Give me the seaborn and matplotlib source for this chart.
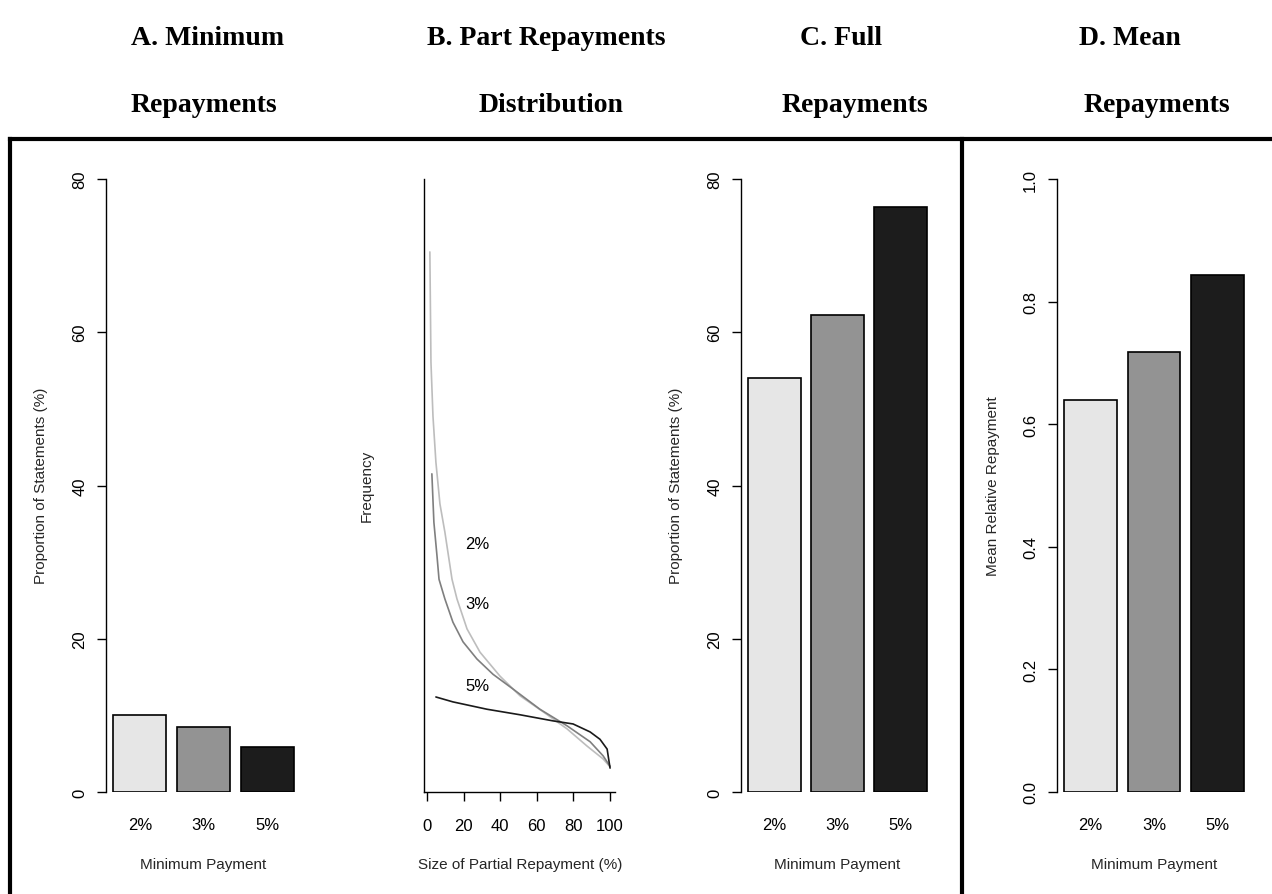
import matplotlib
matplotlib.use("Agg")
import numpy as np
import pandas as pd
import matplotlib.pyplot as plt
from matplotlib.lines import Line2D
import seaborn as sns

# ---- data ----
categories = ['2%', '3%', '5%']
bar_colors = ['#e6e6e6', '#939393', '#1c1c1c']
min_repay = [10.0, 8.5, 5.9]        # A, % of statements
full_repay = [54.0, 62.2, 76.3]     # C, % of statements
mean_repay = [0.640, 0.717, 0.844]  # D, mean relative repayment

# B: distribution of partial repayment size (frequency, arbitrary units)
size_2 = [1.6, 2.2, 3.3, 4.9, 7.1, 9.8, 13.7, 16.4, 21.9, 29.0, 39.9, 50.8, 63.4, 76.5, 87.4, 96.2, 100]
freq_2 = [88.1, 70.1, 61.3, 53.8, 47.0, 42.4, 34.7, 31.5, 26.6, 22.8, 18.9, 15.7, 13.1, 10.3, 7.5, 5.4, 4.1]
size_3 = [2.7, 3.8, 5.5, 6.6, 9.8, 14.2, 19.7, 27.3, 36.1, 47.0, 61.7, 76.5, 89.1, 96.2, 100]
freq_3 = [51.9, 44.0, 38.5, 34.7, 31.5, 27.7, 24.5, 21.7, 19.2, 16.8, 13.5, 10.8, 8.2, 5.9, 4.2]
size_5 = [4.9, 14.2, 32.8, 50.8, 68.9, 79.8, 89.1, 94.5, 98.4, 100]
freq_5 = [15.5, 14.7, 13.5, 12.6, 11.6, 11.1, 9.8, 8.6, 7.0, 3.9]
curve_colors = ['#bdbdbd', '#7f7f7f', '#1a1a1a']
curve_label_pos = [(20.8, 40.5), (20.8, 30.7), (20.8, 17.3)]

titles = [('A. Minimum', 'Repayments'), ('B. Part Repayments', 'Distribution'),
          ('C. Full', 'Repayments'), ('D. Mean', 'Repayments')]

sns.set_style('white', {'axes.edgecolor': 'black', 'text.color': 'black',
                        'xtick.color': 'black', 'ytick.color': 'black'})
plt.rcParams['font.family'] = ['Liberation Sans', 'DejaVu Sans']

W, H = 1272, 895
fig = plt.figure(figsize=(W / 100, H / 100), dpi=100)


def rect(x0, x1, y0=180, y1=793):
    return [x0 / W, 1 - y1 / H, (x1 - x0) / W, (y1 - y0) / H]


def fx(x):
    return x / W


def fy(y):
    return 1 - y / H


axA = fig.add_axes(rect(106, 301))
axB = fig.add_axes(rect(424, 615))
axC = fig.add_axes(rect(741, 934))
axD = fig.add_axes(rect(1057, 1251))


def bar_panel(ax, values, ymax, yticks, ylabels, ylabel, x_axis):
    df = pd.DataFrame({'min_payment': categories, 'value': values})
    sns.barplot(data=df, x='min_payment', y='value', hue='min_payment',
                palette=bar_colors, width=1 / 1.2, saturation=1,
                edgecolor='black', linewidth=1.2, legend=False, ax=ax)
    ax.set_xlim(-0.53, 2.53)
    ax.set_ylim(0, ymax)
    sns.despine(ax=ax, bottom=True)
    ax.spines['left'].set_bounds(0, ymax)
    ax.spines['left'].set_linewidth(1.0)
    ax.set_yticks(yticks)
    ax.set_yticklabels(ylabels, rotation=90, va='center', fontsize=12)
    ax.tick_params(axis='y', length=6.5, width=1.0, pad=7, left=True)
    ax.tick_params(axis='x', length=0, pad=18, labelsize=12)
    ax.set_xlabel('Minimum Payment', fontsize=11)
    ax.xaxis.label.set_va('center')
    ax.xaxis.set_label_coords(fx(x_axis), fy(865), transform=fig.transFigure)
    ax.set_ylabel(ylabel, fontsize=11)
    ax.yaxis.label.set_va('center')


bar_panel(axA, min_repay, 80, [0, 20, 40, 60, 80], ['0', '20', '40', '60', '80'],
          'Proportion of Statements (%)', 203)
axA.yaxis.set_label_coords(fx(41), fy(486), transform=fig.transFigure)

bar_panel(axC, full_repay, 80, [0, 20, 40, 60, 80], ['0', '20', '40', '60', '80'],
          'Proportion of Statements (%)', 837)
axC.yaxis.set_label_coords(fx(676), fy(486), transform=fig.transFigure)

bar_panel(axD, mean_repay, 1.0, [0, 0.2, 0.4, 0.6, 0.8, 1.0],
          ['0.0', '0.2', '0.4', '0.6', '0.8', '1.0'],
          'Mean Relative Repayment', 1154)
axD.yaxis.set_label_coords(fx(993), fy(486), transform=fig.transFigure)

# B: curves
for sx, fr, col, lab, pos in zip([size_2, size_3, size_5], [freq_2, freq_3, freq_5],
                                 curve_colors, categories, curve_label_pos):
    sns.lineplot(x=sx, y=fr, color=col, linewidth=1.2, sort=False,
                 estimator=None, ax=axB)
    axB.text(pos[0], pos[1], lab, fontsize=12, ha='left', va='center')

axB.set_xlim(-1.6, 102.7)
axB.set_ylim(0, 100)
sns.despine(ax=axB)
axB.spines['left'].set_linewidth(1.0)
axB.spines['bottom'].set_linewidth(1.0)
axB.set_yticks([])
axB.set_xticks([0, 20, 40, 60, 80, 100])
axB.tick_params(axis='x', length=6.5, width=1.0, pad=12, labelsize=12, bottom=True)
axB.set_xlabel('Size of Partial Repayment (%)', fontsize=11)
axB.xaxis.label.set_va('center')
axB.xaxis.set_label_coords(fx(520), fy(865), transform=fig.transFigure)
axB.set_ylabel('Frequency', fontsize=11)
axB.yaxis.label.set_va('center')
axB.yaxis.set_label_coords(fx(367), fy(486), transform=fig.transFigure)

# panel titles
title_centers = [(208, 204), (546, 551), (841, 855), (1130, 1157)]
for (l1, l2), (c1, c2) in zip(titles, title_centers):
    fig.text(fx(c1), fy(45), l1, ha='center', va='baseline', fontsize=20,
             family='Liberation Serif', weight='bold')
    fig.text(fx(c2), fy(112), l2, ha='center', va='baseline', fontsize=20,
             family='Liberation Serif', weight='bold')

# thick frames around the panels
for xs, ys in [([fx(10), 1], [fy(140), fy(140)]),
               ([fx(10), fx(10)], [fy(140), 0]),
               ([fx(962), fx(962)], [fy(140), 0])]:
    fig.add_artist(Line2D(xs, ys, transform=fig.transFigure, color='black',
                          linewidth=3, solid_capstyle='projecting'))

fig.savefig('out.png', dpi=100)
